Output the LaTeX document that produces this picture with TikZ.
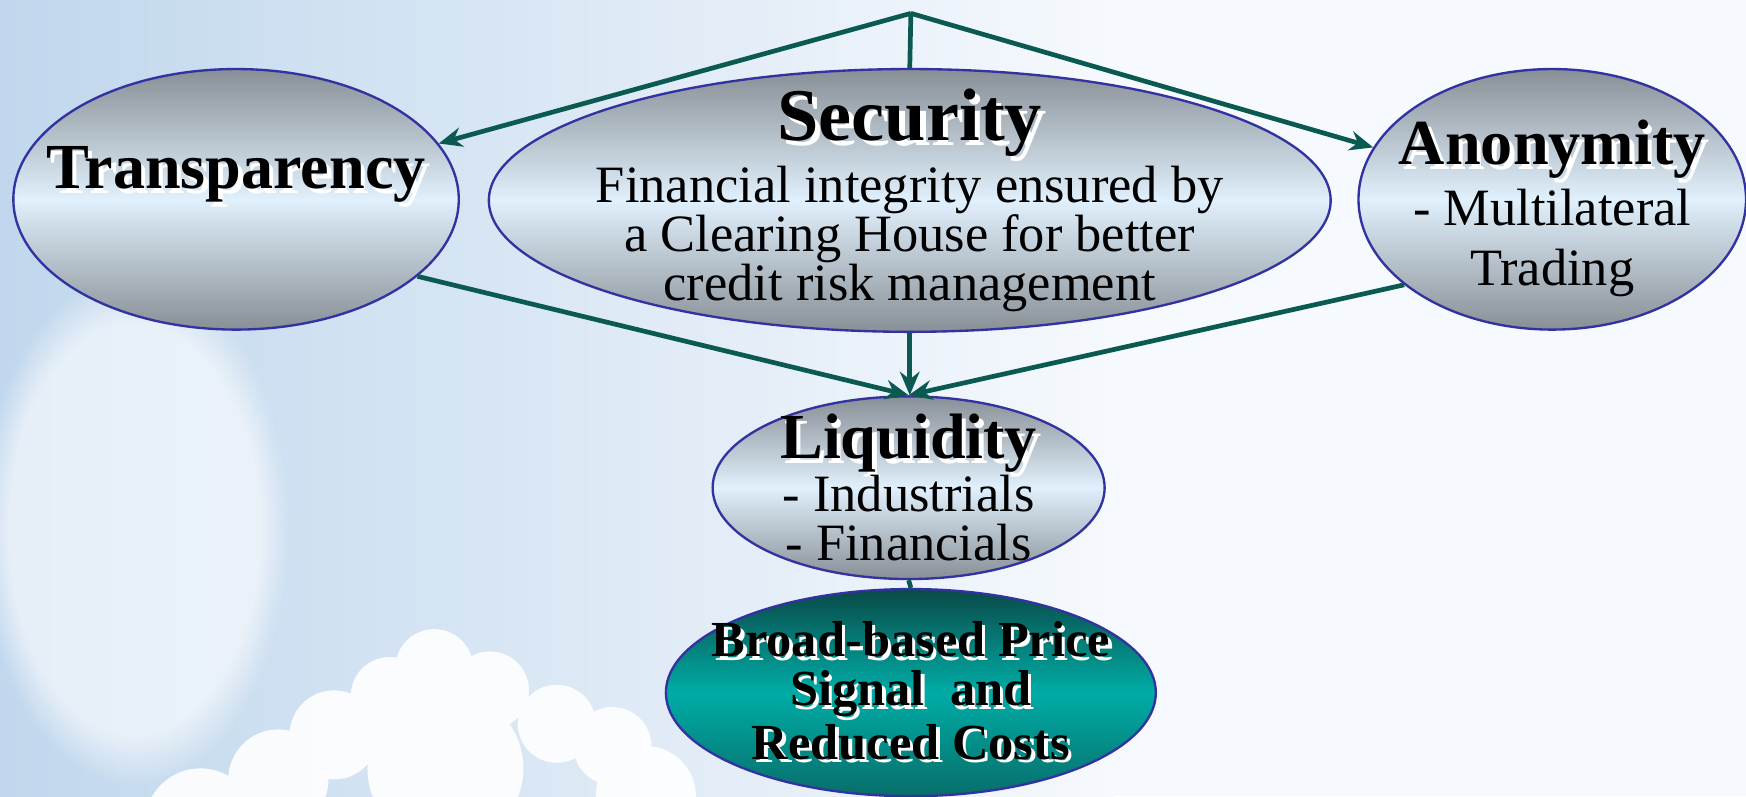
\documentclass[tikz,border=0pt]{standalone}
\usepackage{fontspec}
\setmainfont{Liberation Serif}
\usetikzlibrary{positioning,shapes.geometric,arrows.meta,calc,fadings}

\definecolor{linkteal}{RGB}{11,90,82}
\definecolor{rimblue}{RGB}{50,50,160}
\definecolor{greytop}{RGB}{136,143,150}
\definecolor{paleblue}{RGB}{224,240,252}
\definecolor{tealtop}{RGB}{10,74,72}
\definecolor{tealmid}{RGB}{0,172,166}
\definecolor{tealbot}{RGB}{8,110,106}
\definecolor{skyleft}{RGB}{192,215,237}
\definecolor{skyright}{RGB}{246,249,253}

% white shadow behind bold titles
\newcommand{\shd}[1]{\makebox[0pt][l]{\kern0.07em\raisebox{-0.07em}{\color{white}#1}}#1}
\newcommand{\ttl}{\bfseries\fontsize{16.4}{18}\selectfont}

\tikzset{
	bubble/.style={ellipse,draw=rimblue,line width=0.6pt,top color=greytop,bottom color=greytop,middle color=paleblue,inner sep=0pt},
	goal/.style={ellipse,draw=rimblue,line width=0.6pt,top color=tealtop,bottom color=tealbot,middle color=tealmid,inner sep=0pt},
	words/.style={align=center,inner sep=0pt,font=\fontsize{13.4}{12.6}\selectfont},
	goalwords/.style={align=center,inner sep=0pt,font=\bfseries\fontsize{12.9}{12.4}\selectfont},
	link/.style={draw=linkteal,line width=1.2pt},
	arr/.style={link,-{Stealth[length=6pt,width=5pt]}},
}

\begin{document}
\begin{tikzpicture}
	\useasboundingbox (0,0) rectangle (15.68,7.15);
	% sky and clouds
	\fill[skyright] (0,0) rectangle (15.68,7.15);
	\shade[left color=skyleft,right color=skyright] (0,0) rectangle (10,7.15);
	\fill[white,opacity=0.6,path fading=circle with fuzzy edge 20 percent] (1.2,2.4) ellipse (1.4cm and 2.3cm);
	\fill[white,opacity=0.9] (3.9,1.15) circle (0.35) (3.5,0.9) circle (0.35) (4.4,0.95) circle (0.35) (5.0,0.65) circle (0.35)
		(5.5,0.45) circle (0.35) (3.0,0.55) circle (0.4) (2.5,0.15) circle (0.45) (4.0,0.25) circle (0.7)
		(5.8,0.0) circle (0.45) (1.8,-0.25) circle (0.5);

	\node[bubble,minimum width=4cm,minimum height=2.34cm] (tra) at (2.12,5.36) {};
	\node[bubble,minimum width=7.56cm,minimum height=2.36cm] (sec) at (8.17,5.35) {};
	\node[bubble,minimum width=3.48cm,minimum height=2.34cm] (ano) at (13.94,5.36) {};
	\node[bubble,minimum width=3.52cm,minimum height=1.64cm] (liq) at (8.16,2.77) {};
	\node[goal,minimum width=4.4cm,minimum height=1.86cm] (bro) at (8.18,0.93) {};

	\node[words,yshift=0.2cm] (traT) at (tra) {\ttl\shd{Transparency}};
	\node[words] (secT) at (sec) {{\bfseries\fontsize{19}{22}\selectfont\shd{Security}}\\ Financial integrity ensured by\\ a Clearing House for better\\ credit risk management};
	\node[words,yshift=-0.08cm] (anoT) at (ano) {{\ttl\shd{Anonymity}}\\[0.6pt] - Multilateral\\[2.6pt] Trading};
	\node[words] (liqT) at (liq) {{\ttl\shd{Liquidity}}\\[-1.5pt] - Industrials\\ - Financials};
	\node[goalwords] (broT) at (bro) {\shd{Broad-based Price}\\ \shd{Signal\ \ and}\\ \shd{Reduced Costs}};

	\coordinate (top) at (8.18,7.03);
	\draw[link] (top) -- (sec.north);
	\draw[arr] (top) -- (tra);
	\draw[arr] (top) -- (ano);
	\draw[arr] (tra.-23) -- (liq.north);
	\draw[arr] (sec.south) -- (sec.south |- liq.north);
	\draw[arr] (ano.210) -- (liq.north);
	\draw[link] (liq.south) -- (bro.north);
\end{tikzpicture}
\end{document}
